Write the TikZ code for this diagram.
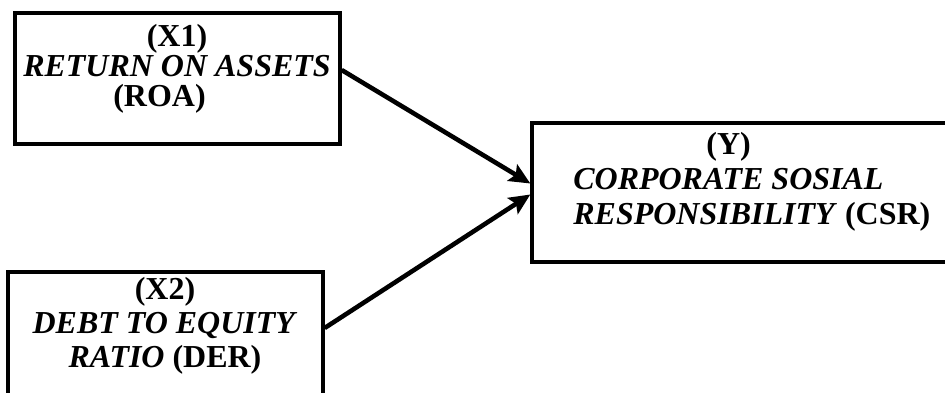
\documentclass[tikz,border=0pt]{standalone}
\usepackage{fontspec}
\setmainfont{Liberation Serif}
\usepackage{tikz}
\usetikzlibrary{arrows.meta}
\tikzset{
    normal/.style={draw, line width=1.9pt},
    var/.style={style=normal, rectangle}, % variable boxes
    txt/.style={inner sep=0, anchor=north, font=\fontsize{18.2}{#1}\selectfont\bfseries}, % text inside a box
    txt/.default=19,
    e/.style={line width=2.6pt, -{Stealth[length=4.2mm, width=3.8mm, inset=0.8mm]}} % influence edge
}

\begin{document}
\begin{tikzpicture}
  \useasboundingbox (0, 0) rectangle (18.9, 7.84);
  \node[var, minimum width=6.5cm, minimum height=2.62cm] (roa) at (3.55, 6.27) {};
  \node[var, minimum width=6.3cm, minimum height=2.7cm] (der) at (3.31, 1.05) {};
  \node[var, minimum width=8.56cm, minimum height=2.78cm] (csr) at (14.92, 3.99) {};

  \node[txt=17, align=center] (roa text) at (3.54, 7.36) {(X1)\\ \textit{RETURN ON ASSETS}\\ (ROA)\hspace*{0.7cm}};
  \node[txt=19.2, align=center] (der text) at (3.30, 2.3) {(X2)\\ \textit{DEBT TO EQUITY}\\ \textit{RATIO} (DER)};
  \node[txt=19.8, align=left, anchor=north west] (csr text) at (11.46, 5.2) {\hspace*{2.66cm}(Y)\\ \textit{CORPORATE SOSIAL}\\ \textit{RESPONSIBILITY} (CSR)};

  \draw[e] ([yshift=0.17cm]roa.east) to ([yshift=0.18cm]csr.west);
  \draw[e] ([yshift=0.23cm]der.east) to ([yshift=-0.04cm]csr.west);
\end{tikzpicture}
\end{document}
